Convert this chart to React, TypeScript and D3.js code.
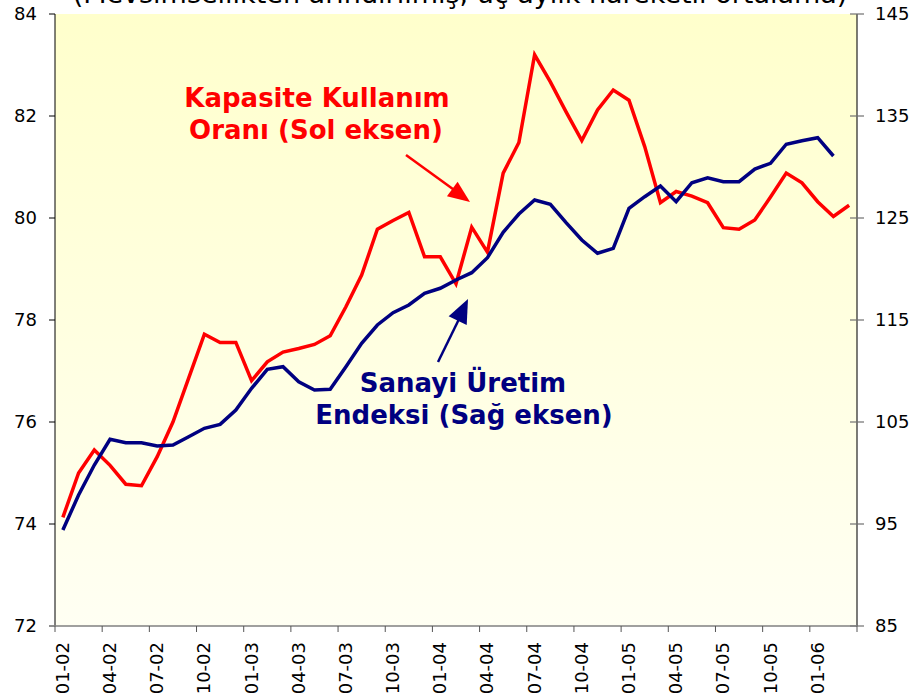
import React from "react";
import * as d3 from "d3";

const categories: string[] = [];
for (let y = 2; y <= 6; y++) {
  for (let m = 1; m <= 12; m++) {
    if (y === 6 && m > 3) break;
    categories.push(`${String(m).padStart(2, "0")}-${String(y).padStart(2, "0")}`);
  }
}

const kkoValues = [
  74.13, 75.0, 75.45, 75.15, 74.78, 74.75, 75.32, 76.0, 76.86, 77.72,
  77.56, 77.56, 76.81, 77.18, 77.37, 77.44, 77.52, 77.69, 78.26, 78.88,
  79.78, 79.95, 80.11, 79.24, 79.24, 78.71, 79.82, 79.33, 80.88, 81.48,
  83.2, 82.67, 82.08, 81.52, 82.12, 82.51, 82.31, 81.4, 80.3, 80.52,
  80.43, 80.3, 79.81, 79.78, 79.96, 80.41, 80.88, 80.69, 80.32, 80.03,
  80.25,
];

const sueValues = [
  94.41, 97.84, 100.78, 103.3, 102.97, 102.97, 102.65, 102.75, 103.56, 104.38,
  104.77, 106.18, 108.3, 110.17, 110.42, 108.95, 108.14, 108.2, 110.42, 112.71,
  114.51, 115.72, 116.47, 117.62, 118.11, 118.92, 119.64, 121.11, 123.6, 125.39,
  126.76, 126.34, 124.54, 122.84, 121.54, 122.03, 125.95, 127.09, 128.14, 126.6,
  128.46, 128.95, 128.56, 128.56, 129.8, 130.36, 132.23, 132.58, 132.87, 131.08,
];

const leftTicks = [72, 74, 76, 78, 80, 82, 84];
const rightTicks = [85, 95, 105, 115, 125, 135, 145];

const title = "(Mevsimsellikten arındırılmış, üç aylık hareketli ortalama)";
const redLabel = ["Kapasite Kullanım", "Oranı (Sol eksen)"];
const blueLabel = ["Sanayi Üretim", "Endeksi (Sağ eksen)"];

const W = 916;
const H = 699;
const L = 55;
const R = 857;
const T = 14;
const B = 626;
const FONT = "'DejaVu Sans', Tahoma, Verdana, sans-serif";

export default function App() {
  const x = d3.scaleBand<string>().domain(categories).range([L, R]).padding(0);
  const cx = (c: string) => (x(c) as number) + x.bandwidth() / 2;
  const yL = d3.scaleLinear().domain([72, 84]).range([B, T]);
  const yR = d3.scaleLinear().domain([85, 145]).range([B, T]);

  const redLine = d3
    .line<number>()
    .x((_, i) => cx(categories[i]))
    .y((d) => yL(d));
  const blueLine = d3
    .line<number>()
    .x((_, i) => cx(categories[i]))
    .y((d) => yR(d));

  const tickCats = categories.filter((_, i) => i % 3 === 0);
  const tickXs = [...tickCats.map((c) => x(c) as number), R];

  const arrowHead = (x1: number, y1: number, x2: number, y2: number, len: number, half: number) => {
    const a = Math.atan2(y2 - y1, x2 - x1);
    const bx = x2 - len * Math.cos(a);
    const by = y2 - len * Math.sin(a);
    const px = -Math.sin(a) * half;
    const py = Math.cos(a) * half;
    return `M${x2},${y2}L${bx + px},${by + py}L${bx - px},${by - py}Z`;
  };

  return (
    <div style={{ position: "absolute", left: 0, top: 0, width: W, height: H, background: "#fff" }}>
      <svg width={W} height={H} style={{ display: "block" }} fontFamily={FONT}>
        <defs>
          <linearGradient id="bg" x1="0" y1="0" x2="0" y2="1">
            <stop offset="0" stopColor="#FFFFCC" />
            <stop offset="1" stopColor="#FFFFF3" />
          </linearGradient>
        </defs>
        <rect x={0} y={0} width={W} height={H} fill="#ffffff" />
        <text x={W / 2 + 2} y={3} textAnchor="middle" fontSize={27} fill="#000">
          {title}
        </text>
        <rect x={L} y={T} width={R - L} height={B - T} fill="url(#bg)" />

        {/* left axis */}
        <line x1={L} y1={T} x2={L} y2={B} stroke="#000" strokeWidth={1} />
        {leftTicks.map((t) => (
          <g key={"l" + t}>
            <line x1={L - 6} x2={L} y1={yL(t)} y2={yL(t)} stroke={t === 72 ? "#808080" : "#000"} strokeWidth={1} />
            <text x={37} y={yL(t)} dy="0.35em" textAnchor="end" fontSize={18} fill="#000">
              {t}
            </text>
          </g>
        ))}

        {/* right axis */}
        <line x1={R} y1={T} x2={R} y2={B} stroke="#222" strokeWidth={1.2} />
        {rightTicks.map((t) => (
          <g key={"r" + t}>
            <line x1={R - 7} x2={R + 7} y1={yR(t)} y2={yR(t)} stroke="#707070" strokeWidth={1.2} />
            <text x={875} y={yR(t)} dy="0.35em" textAnchor="start" fontSize={18} fill="#000">
              {t}
            </text>
          </g>
        ))}

        {/* bottom axis */}
        <line x1={L - 6} x2={R} y1={B} y2={B} stroke="#808080" strokeWidth={1.5} />
        {tickXs.map((tx, i) => (
          <line key={"bt" + i} x1={tx} x2={tx} y1={B} y2={B + 6} stroke="#555" strokeWidth={1} />
        ))}
        {tickCats.map((c) => (
          <text
            key={"bl" + c}
            transform={`translate(${cx(c) + 6},642) rotate(-90)`}
            textAnchor="end"
            fontSize={18}
            fill="#000"
          >
            {c}
          </text>
        ))}

        {/* series */}
        <path d={redLine(kkoValues) || ""} fill="none" stroke="#FF0000" strokeWidth={3.5} strokeLinejoin="miter" />
        <path d={blueLine(sueValues) || ""} fill="none" stroke="#000080" strokeWidth={3.5} strokeLinejoin="miter" />

        {/* red annotation */}
        <text textAnchor="middle" fontSize={26} fontWeight="bold" fill="#FF0000">
          <tspan x={317} y={107}>{redLabel[0]}</tspan>
          <tspan x={316} y={139}>{redLabel[1]}</tspan>
        </text>
        <line x1={406} y1={155} x2={457} y2={192} stroke="#FF0000" strokeWidth={2.5} />
        <path d={arrowHead(406, 155, 470, 202, 22, 9)} fill="#FF0000" />

        {/* blue annotation */}
        <text textAnchor="middle" fontSize={26} fontWeight="bold" fill="#000080">
          <tspan x={463} y={392}>{blueLabel[0]}</tspan>
          <tspan x={464} y={424}>{blueLabel[1]}</tspan>
        </text>
        <line x1={438} y1={362} x2={462} y2={313} stroke="#000080" strokeWidth={2.5} />
        <path d={arrowHead(438, 362, 468, 299, 24, 10)} fill="#000080" />
      </svg>
    </div>
  );
}
